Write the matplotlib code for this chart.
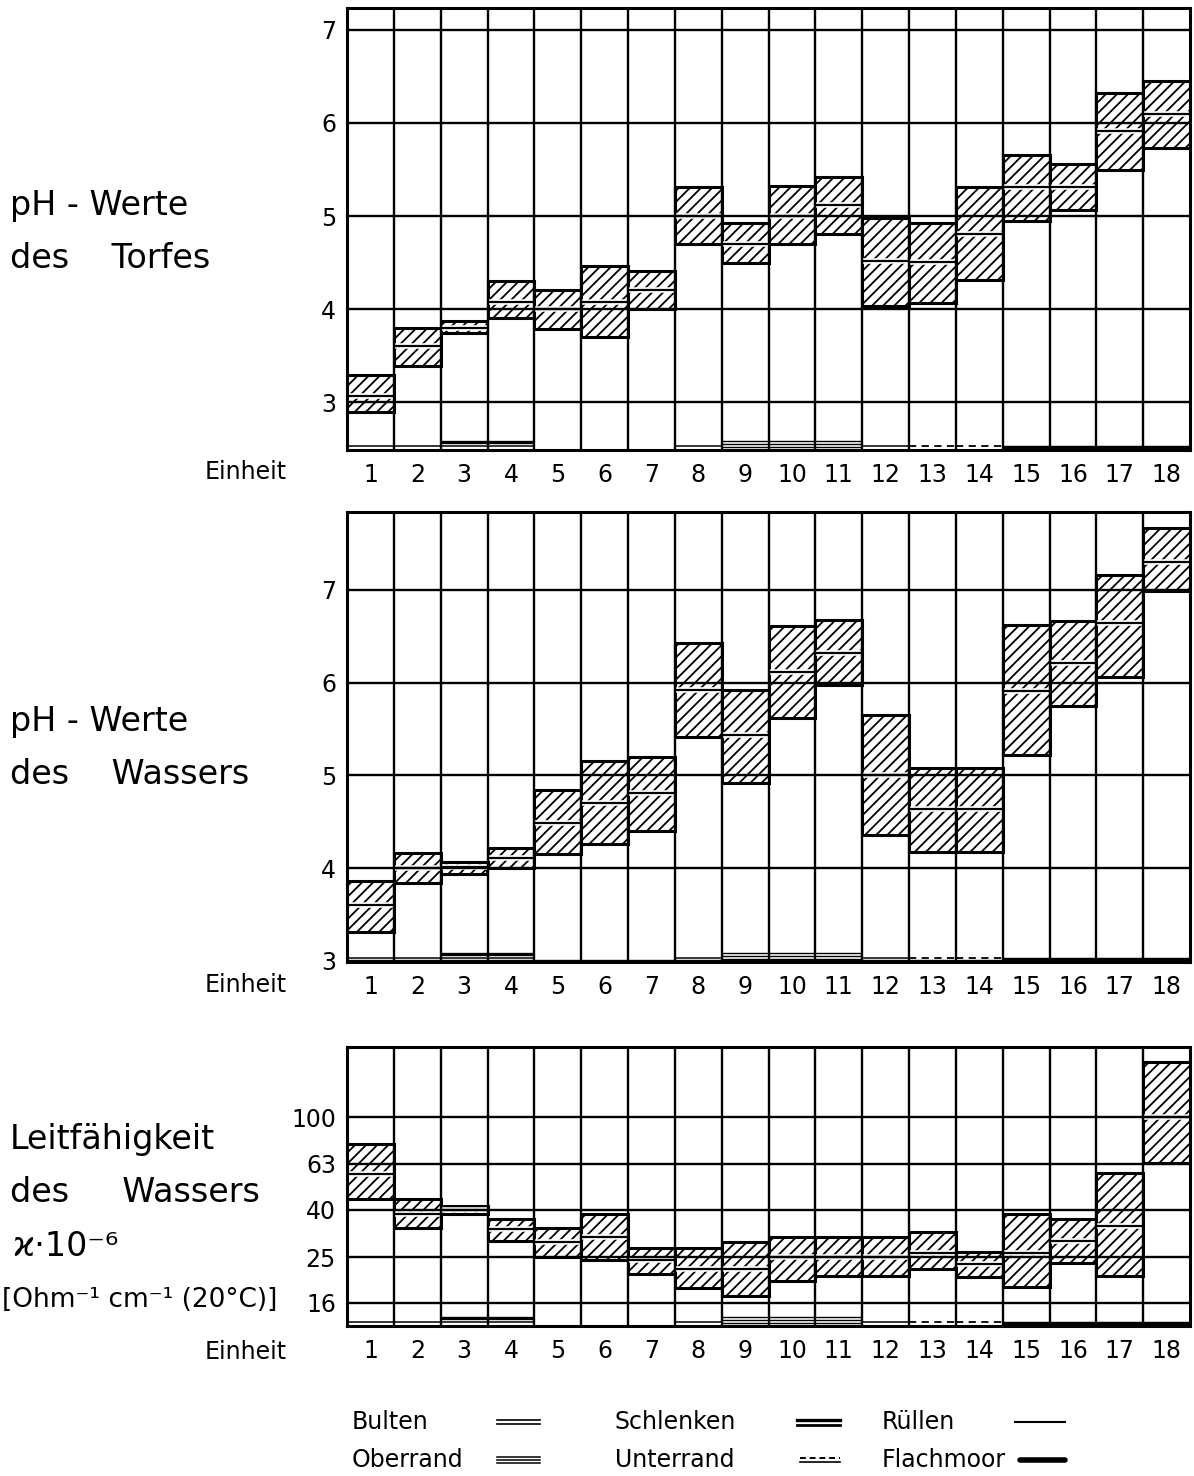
import matplotlib
matplotlib.use('Agg')
import matplotlib.pyplot as plt
import numpy as np
from matplotlib.transforms import blended_transform_factory
from matplotlib.ticker import NullLocator

plt.rcParams['font.family'] = ['DejaVu Sans']
plt.rcParams['hatch.linewidth'] = 1.3

# ---------------- data ----------------
units = list(range(1, 19))
# B=Bulten, O=Oberrand, S=Schlenken, U=Unterrand, R=Rüllen, F=Flachmoor
unit_types = ['B', 'B', 'S', 'S', 'R', 'R', 'R', 'B', 'O', 'O', 'O', 'B', 'U', 'U', 'F', 'F', 'F', 'F']

ph_torf_max = [3.29, 3.80, 3.87, 4.30, 4.20, 4.46, 4.41, 5.31, 4.93, 5.32, 5.42, 4.98, 4.93, 5.31, 5.66, 5.56, 6.32, 6.45]
ph_torf_med = [3.07, 3.60, 3.80, 4.08, 4.00, 4.08, 4.21, 5.00, 4.70, 5.00, 5.12, 4.52, 4.51, 4.81, 5.31, 5.31, 5.91, 6.10]
ph_torf_min = [2.89, 3.39, 3.74, 3.90, 3.79, 3.70, 4.00, 4.70, 4.50, 4.70, 4.81, 4.03, 4.06, 4.31, 4.95, 5.07, 5.50, 5.73]

ph_wasser_max = [3.86, 4.16, 4.07, 4.22, 4.84, 5.15, 5.20, 6.43, 5.92, 6.61, 6.67, 5.65, 5.08, 5.08, 6.62, 6.66, 7.16, 7.67]
ph_wasser_med = [3.60, 4.00, 4.01, 4.11, 4.49, 4.70, 4.81, 5.92, 5.43, 6.11, 6.32, 5.00, 4.64, 4.64, 5.91, 6.21, 6.64, 7.30]
ph_wasser_min = [3.31, 3.84, 3.94, 4.00, 4.15, 4.26, 4.40, 5.41, 4.92, 5.62, 5.97, 4.36, 4.17, 4.17, 5.22, 5.75, 6.06, 6.99]

leit_max = [76.6, 44.4, 41.4, 36.4, 33.3, 38.3, 27.4, 27.4, 29.0, 30.5, 30.5, 30.5, 32.0, 26.5, 38.3, 36.4, 57.4, 172.0]
leit_med = [57.0, 38.3, 40.0, 33.0, 29.0, 30.5, 24.3, 22.4, 22.2, 25.0, 25.0, 25.0, 26.2, 23.5, 26.2, 29.3, 34.0, 100.0]
leit_min = [44.4, 33.3, 38.3, 29.3, 25.2, 24.3, 21.3, 18.4, 17.0, 19.9, 20.9, 20.9, 22.2, 20.7, 18.6, 23.6, 20.9, 63.4]

ph_ticks = [3, 4, 5, 6, 7]
leit_ticks = [16, 25, 40, 63, 100]

legend_names = ['Bulten', 'Oberrand', 'Schlenken', 'Unterrand', 'Rüllen', 'Flachmoor']
legend_keys = ['B', 'O', 'S', 'U', 'R', 'F']

# ---------------- figure ----------------
W, H = 1194, 1476
fig = plt.figure(figsize=(W / 100, H / 100), dpi=100)
fig.patch.set_facecolor('white')


def axes_px(left, top, right, bottom):
    return fig.add_axes([left / W, 1 - bottom / H, (right - left) / W, (bottom - top) / H])


def draw_panel(ax, mins, meds, maxs, ticks, ylim, log=False):
    if log:
        ax.set_yscale('log')
    ax.set_xlim(0, 18)
    ax.set_ylim(*ylim)
    x = np.arange(18)
    mins = np.array(mins, dtype=float)
    maxs = np.array(maxs, dtype=float)
    ax.bar(x, maxs - mins, bottom=mins, width=1.0, align='edge',
           facecolor='white', edgecolor='black', hatch='///',
           linewidth=2.2, zorder=2)
    for i in range(18):
        ax.plot([i, i + 1], [meds[i], meds[i]], color='white', lw=4.0,
                solid_capstyle='butt', zorder=3)
        ax.plot([i, i + 1], [meds[i], meds[i]], color='black', lw=1.6,
                solid_capstyle='butt', zorder=3.1)
    for yt in ticks:
        ax.axhline(yt, color='black', lw=1.7, zorder=4)
    for xv in range(1, 18):
        ax.axvline(xv, color='black', lw=1.7, zorder=4)
    ax.set_yticks(ticks)
    ax.set_yticklabels([str(t) for t in ticks], fontsize=17)
    ax.yaxis.set_minor_locator(NullLocator())
    ax.set_xticks(x + 0.5)
    ax.set_xticklabels([str(u) for u in units], fontsize=17)
    ax.tick_params(axis='both', length=0)
    ax.tick_params(axis='x', pad=9)
    ax.tick_params(axis='y', pad=8)
    for s in ax.spines.values():
        s.set_linewidth(2.2)
        s.set_zorder(6)
    # unit-type marks at the bottom of each column
    hpx = ax.get_position().height * H
    trans = blended_transform_factory(ax.transData, ax.transAxes)

    def mark(i, off, lw, ls='-'):
        ax.plot([i, i + 1], [off / hpx, off / hpx], transform=trans, color='black',
                lw=lw, ls=ls, solid_capstyle='butt', zorder=5, clip_on=False)

    for i, t in enumerate(unit_types):
        if t == 'B':
            mark(i, 4, 1.1)
        elif t == 'S':
            mark(i, 4, 1.1)
            mark(i, 8.5, 2.4)
        elif t == 'O':
            mark(i, 3.5, 1.0)
            mark(i, 6.5, 1.0)
            mark(i, 9.5, 1.0)
        elif t == 'U':
            mark(i, 4, 1.3, ls=(0, (4, 3)))
        elif t == 'F':
            mark(i, 2.5, 3.2)


ax1 = axes_px(347, 8, 1190, 450)
draw_panel(ax1, ph_torf_min, ph_torf_med, ph_torf_max, ph_ticks, (2.485, 7.236))
ax2 = axes_px(347, 512, 1190, 962)
draw_panel(ax2, ph_wasser_min, ph_wasser_med, ph_wasser_max, ph_ticks, (2.987, 7.84))
ax3 = axes_px(347, 1047, 1190, 1326)
draw_panel(ax3, leit_min, leit_med, leit_max, leit_ticks, (12.7, 200.0), log=True)

# overlay axes in pixel coordinates for text and legend
ov = fig.add_axes([0, 0, 1, 1], zorder=10)
ov.set_xlim(0, W)
ov.set_ylim(H, 0)
ov.axis('off')
ov.patch.set_alpha(0)

tfs = 24
ov.text(10, 205, 'pH - Werte', fontsize=tfs, ha='left', va='center')
ov.text(10, 258, 'des    Torfes', fontsize=tfs, ha='left', va='center')
ov.text(10, 722, 'pH - Werte', fontsize=tfs, ha='left', va='center')
ov.text(10, 775, 'des    Wassers', fontsize=tfs, ha='left', va='center')
ov.text(10, 1140, 'Leitfähigkeit', fontsize=tfs, ha='left', va='center')
ov.text(10, 1193, 'des     Wassers', fontsize=tfs, ha='left', va='center')
ov.text(12, 1247, 'ϰ·10⁻⁶', fontsize=tfs, ha='left', va='center')
ov.text(2, 1300, '[Ohm⁻¹ cm⁻¹ (20°C)]', fontsize=19, ha='left', va='center')

for yy in (472, 985, 1352):
    ov.text(287, yy, 'Einheit', fontsize=17, ha='right', va='center')

# legend
leg_text_x = {'B': 352, 'O': 352, 'S': 615, 'U': 615, 'R': 882, 'F': 882}
leg_sym_x = {'B': (497, 540), 'O': (497, 540), 'S': (797, 840), 'U': (800, 840),
             'R': (1015, 1065), 'F': (1020, 1065)}
leg_y = {'B': 1422, 'S': 1422, 'R': 1422, 'O': 1460, 'U': 1460, 'F': 1460}

for name, key in zip(legend_names, legend_keys):
    y = leg_y[key]
    ov.text(leg_text_x[key], y, name, fontsize=17, ha='left', va='center')
    x0, x1 = leg_sym_x[key]
    if key == 'B':
        ov.plot([x0, x1], [y - 2, y - 2], color='black', lw=1.2)
        ov.plot([x0, x1], [y + 2, y + 2], color='black', lw=1.2)
    elif key == 'O':
        for d in (-3, 0, 3):
            ov.plot([x0, x1], [y + d, y + d], color='black', lw=1.1)
    elif key == 'S':
        ov.plot([x0, x1], [y - 2.5, y - 2.5], color='black', lw=2.4)
        ov.plot([x0, x1], [y + 2.5, y + 2.5], color='black', lw=2.0)
    elif key == 'U':
        ov.plot([x0, x1], [y - 2, y - 2], color='black', lw=1.4, ls=(0, (3, 2)))
        ov.plot([x0, x1], [y + 2, y + 2], color='black', lw=1.2)
    elif key == 'R':
        ov.plot([x0, x1], [y, y], color='black', lw=1.5)
    elif key == 'F':
        ov.plot([x0, x1], [y, y], color='black', lw=4.0, solid_capstyle='round')

fig.savefig('out.png', dpi=100, facecolor='white')
